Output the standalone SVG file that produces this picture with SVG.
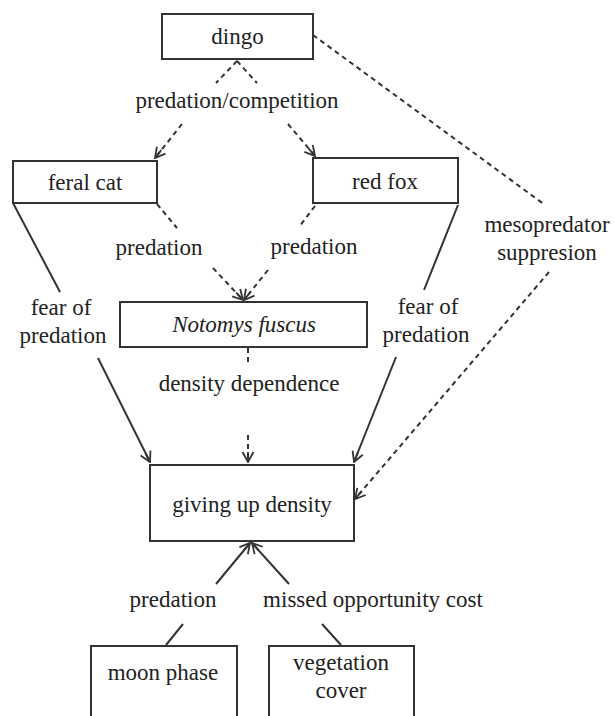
<svg xmlns="http://www.w3.org/2000/svg" width="614" height="716" viewBox="0 0 614 716">
<style>
.box{fill:#fff;stroke:#333;stroke-width:2}
.t{font-family:'Liberation Serif','DejaVu Serif',serif;font-size:23px;fill:#222;text-anchor:middle}
.s{fill:none;stroke:#333;stroke-width:2}
.d{fill:none;stroke:#333;stroke-width:2;stroke-dasharray:5 4}
</style>
<defs>
<marker id="ah" viewBox="-12 -8 13 16" refX="0" refY="0" markerWidth="13" markerHeight="16" markerUnits="userSpaceOnUse" orient="auto">
<path d="M-10,-5.5 L0,0 L-10,5.5 M-10,0 L0,0" fill="none" stroke="#333" stroke-width="1.8"/>
</marker>
</defs>
<rect width="614" height="716" fill="#fff"/>
<g id="connectors">
<path class="d" d="M237,61 L216,83"/>
<path class="d" d="M237,61 L257,83"/>
<path class="d" d="M182,124 L155,158" marker-end="url(#ah)"/>
<path class="d" d="M288,124 L315,156" marker-end="url(#ah)"/>
<path class="d" d="M313,35 L545,205"/>
<path class="d" d="M549,272 L355,499" marker-end="url(#ah)"/>
<path class="d" d="M157,204 L177,228"/>
<path class="d" d="M213,268 L243,300" marker-end="url(#ah)"/>
<path class="d" d="M315,206 L299,227"/>
<path class="d" d="M268,270 L244,300" marker-end="url(#ah)"/>
<path class="s" d="M13,203 L60,292"/>
<path class="s" d="M98,358 L150,462" marker-end="url(#ah)"/>
<path class="s" d="M458,205 L424,290"/>
<path class="s" d="M396,357 L354,462" marker-end="url(#ah)"/>
<path class="d" d="M248,348 L248,366"/>
<path class="d" d="M248,435 L248,462" marker-end="url(#ah)"/>
<path class="s" d="M216,584 L250,543" marker-end="url(#ah)"/>
<path class="s" d="M289,584 L252,543" marker-end="url(#ah)"/>
<path class="s" d="M183,624 L166,645"/>
<path class="s" d="M322,624 L341,645"/>
</g>
<g id="dingo"><rect class="box" x="162" y="14" width="151" height="45"/><text class="t" x="237.5" y="44">dingo</text></g>
<g id="lbl-predcomp"><text class="t" x="237" y="108">predation/competition</text></g>
<g id="feral-cat"><rect class="box" x="13" y="161" width="144" height="42"/><text class="t" x="85" y="190">feral cat</text></g>
<g id="red-fox"><rect class="box" x="313" y="158" width="145" height="45"/><text class="t" x="385" y="189">red fox</text></g>
<g id="lbl-meso"><text class="t" x="547" y="232">mesopredator</text><text class="t" x="547" y="260">suppresion</text></g>
<g id="lbl-pred1"><text class="t" x="159" y="255">predation</text></g>
<g id="lbl-pred2"><text class="t" x="314" y="254">predation</text></g>
<g id="lbl-fear1"><text class="t" x="61" y="315">fear of</text><text class="t" x="63" y="343">predation</text></g>
<g id="lbl-fear2"><text class="t" x="428" y="314">fear of</text><text class="t" x="426" y="342">predation</text></g>
<g id="notomys"><rect class="box" x="120" y="302" width="247" height="45"/><text class="t" x="244" y="332" font-style="italic">Notomys fuscus</text></g>
<g id="lbl-dd"><text class="t" x="249" y="391">density dependence</text></g>
<g id="gud"><rect class="box" x="150" y="465" width="204" height="76"/><text class="t" x="252" y="512">giving up density</text></g>
<g id="lbl-pred3"><text class="t" x="173" y="607">predation</text></g>
<g id="lbl-moc"><text class="t" x="373" y="607">missed opportunity cost</text></g>
<g id="moon"><rect class="box" x="91" y="646" width="146" height="80"/><text class="t" x="163" y="680">moon phase</text></g>
<g id="veg"><rect class="box" x="269" y="646" width="145" height="80"/><text class="t" x="341" y="670">vegetation</text><text class="t" x="341" y="698">cover</text></g>
</svg>
